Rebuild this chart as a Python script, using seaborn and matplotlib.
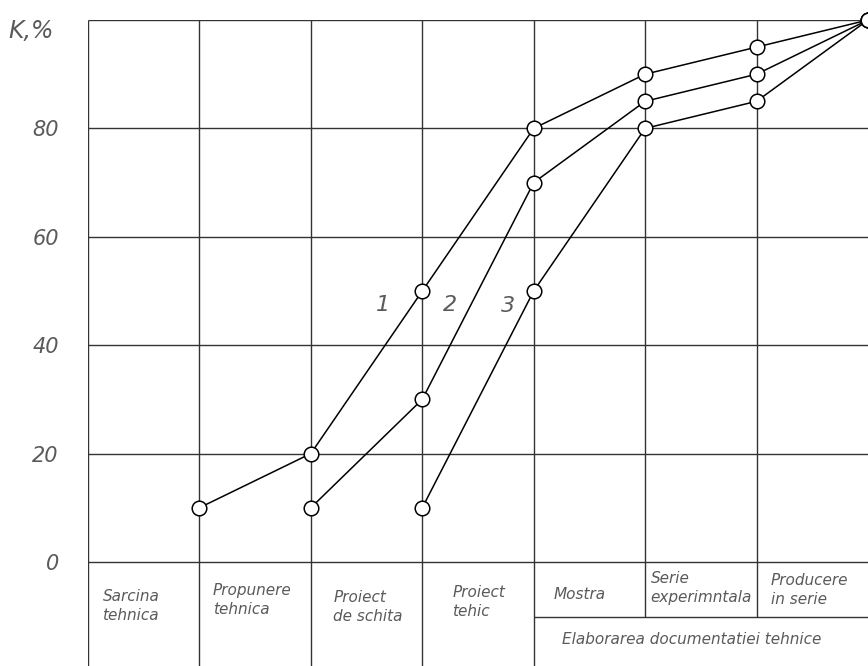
""" Stage chart of technical readiness K,% for three curves """

import pandas as pd
import seaborn as sns
import matplotlib.pyplot as plt

# Data
stages = [1, 2, 3, 4, 5, 6, 7]
curve1 = [10, 20, 50, 80, 90, 95, 100]
curve2 = [10, 30, 70, 85, 90, 100]
curve3 = [10, 50, 80, 85, 100]
y_ticks = [0, 20, 40, 60, 80]
stage_names = ["Sarcina\ntehnica", "Propunere\ntehnica", "Proiect\nde schita",
               "Proiect\ntehic", "Mostra", "Serie\nexperimntala", "Producere\nin serie"]
group_name = "Elaborarea documentatiei tehnice"


def plot():
    """ Creates the chart """
    rows = []
    for name, vals in [("1", curve1), ("2", curve2), ("3", curve3)]:
        for x, v in zip(stages[-len(vals):], vals):
            rows.append({"curve": name, "stage": x, "K": v})
    df = pd.DataFrame(rows)

    fig = plt.figure(figsize=(8.68, 6.66), dpi=100)
    ax = fig.add_axes([88 / 868, 0, 780 / 868, 646 / 666])
    ax.set_xlim(0, 7)
    ax.set_ylim(-19.2, 100)

    # Grid and table
    gc = "#333333"
    ax.hlines([0, 20, 40, 60, 80, 100], 0, 7, color=gc, lw=1.0, zorder=1)
    ax.vlines([0, 1, 2, 3, 4], -19.2, 100, color=gc, lw=1.0, zorder=1)
    ax.vlines([5, 6], -10.1, 100, color=gc, lw=1.0, zorder=1)
    ax.hlines(-10.1, 4, 7, color=gc, lw=1.0, zorder=1)

    sns.lineplot(data=df, x="stage", y="K", hue="curve", palette=["black"] * 3,
                 marker="o", markersize=10.5, markerfacecolor="white",
                 markeredgecolor="black", markeredgewidth=1.1, linewidth=1.1,
                 legend=False, ax=ax, zorder=3, clip_on=False)

    tc = "#5a5a5a"
    font = dict(family="DejaVu Sans", style="italic", color=tc)
    # Curve labels
    ax.text(2.65, 47.5, "1", fontsize=16, ha="center", va="center", **font)
    ax.text(3.25, 47.5, "2", fontsize=16, ha="center", va="center", **font)
    ax.text(3.77, 47.2, "3", fontsize=16, ha="center", va="center", **font)

    # Stage labels in table
    offs = [0.13, 0.12, 0.2, 0.27, 0.18, 0.05, 0.13]
    ytop = [-5.0, -3.9, -5.2, -4.3, -4.6, -1.7, -2.1]
    for i, (name, o, yt) in enumerate(zip(stage_names, offs, ytop)):
        ax.text(i + o, yt, name, fontsize=11, ha="left", va="top",
                linespacing=1.3, **font)
    ax.text(4.25, -14.4, group_name, fontsize=11, ha="left", va="center", **font)

    # Axes
    for s in ax.spines.values():
        s.set_visible(False)
    ax.set_xticks([])
    ax.set_yticks(y_ticks)
    ax.set_yticklabels([str(t) for t in y_ticks], fontsize=15, color=tc,
                       fontstyle="italic")
    ax.tick_params(axis="y", length=0, pad=21)
    ax.set_xlabel("")
    ax.set_ylabel("")
    fig.text(8 / 868, 1 - 31 / 666, "K,%", fontsize=17, ha="left", va="center",
             **font)

    fig.savefig("out.png", dpi=100)


if __name__ == "__main__":
    sns.set_style("white")
    plot()
